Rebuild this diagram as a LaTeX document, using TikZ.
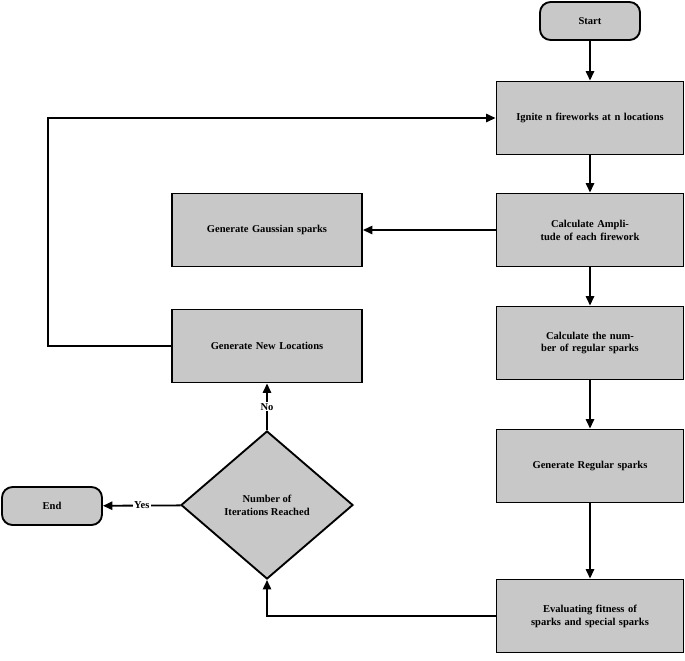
\documentclass[tikz,border=0pt]{standalone}
\usepackage{fontspec}
\setmainfont{Liberation Serif}
\usetikzlibrary{shapes.geometric}
\usetikzlibrary{arrows.meta}
\definecolor{boxgray}{RGB}{200,200,200}

\begin{document}
\begin{tikzpicture}[x=0.03cm, y=-0.03cm, font=\bfseries\small, line width=1.6pt,
    box/.style={rectangle, draw, fill=boxgray, minimum width=187*0.03cm, minimum height=73*0.03cm, align=center, text width=150*0.03cm},
    term/.style={rectangle, rounded corners=9pt, draw, fill=boxgray, minimum width=100*0.03cm, minimum height=38*0.03cm},
    test/.style={diamond, draw, fill=boxgray, aspect=1.15, minimum width=172*0.03cm, minimum height=148*0.03cm, align=center, inner sep=0pt},
    flow/.style={-{Triangle[length=8pt, width=7pt]}}]
    \useasboundingbox (0,0) rectangle (685,660);
    \node[term] (start) at (590, 21) {Start};
    \node[box] (ignite) at (590, 118) {Ignite n fireworks at n locations};
    \node[box] (amp) at (590, 230) {Calculate Amplitude of each firework};
    \node[box] (num) at (590, 343) {Calculate the number of regular sparks};
    \node[box] (reg) at (590, 466) {Generate Regular sparks};
    \node[box] (eval) at (590, 616) {Evaluating fitness of sparks and special sparks};
    \node[box, minimum width=190*0.03cm, text width=180*0.03cm] (gauss) at (267, 230) {Generate Gaussian sparks};
    \node[box, minimum width=190*0.03cm, text width=180*0.03cm] (newloc) at (267, 346) {Generate New Locations};
    \node[test] (iter) at (267, 505) {Number of\\Iterations Reached};
    \node[term] (end) at (52, 506) {End};
    \coordinate (c1) at (48, 346);
    \coordinate (c2) at (48, 118);
    \coordinate (c3) at (267, 616);

    \draw[flow] (start) -- (ignite);
    \draw[flow] (ignite) -- (amp);
    \draw[flow] (amp) -- (gauss);
    \draw[flow] (amp) -- (num);
    \draw[flow] (num) -- (reg);
    \draw[flow] (reg) -- (eval);
    \draw[flow] (eval) -- (c3) -- (iter);
    \draw[flow] (iter) -- node[fill=white, inner sep=1pt] {Yes} (end);
    \draw[flow] (iter) -- node[fill=white, inner sep=1pt] {No} (newloc);
    \draw[flow] (newloc) -- (c1) -- (c2) -- (ignite);
\end{tikzpicture}
\end{document}
